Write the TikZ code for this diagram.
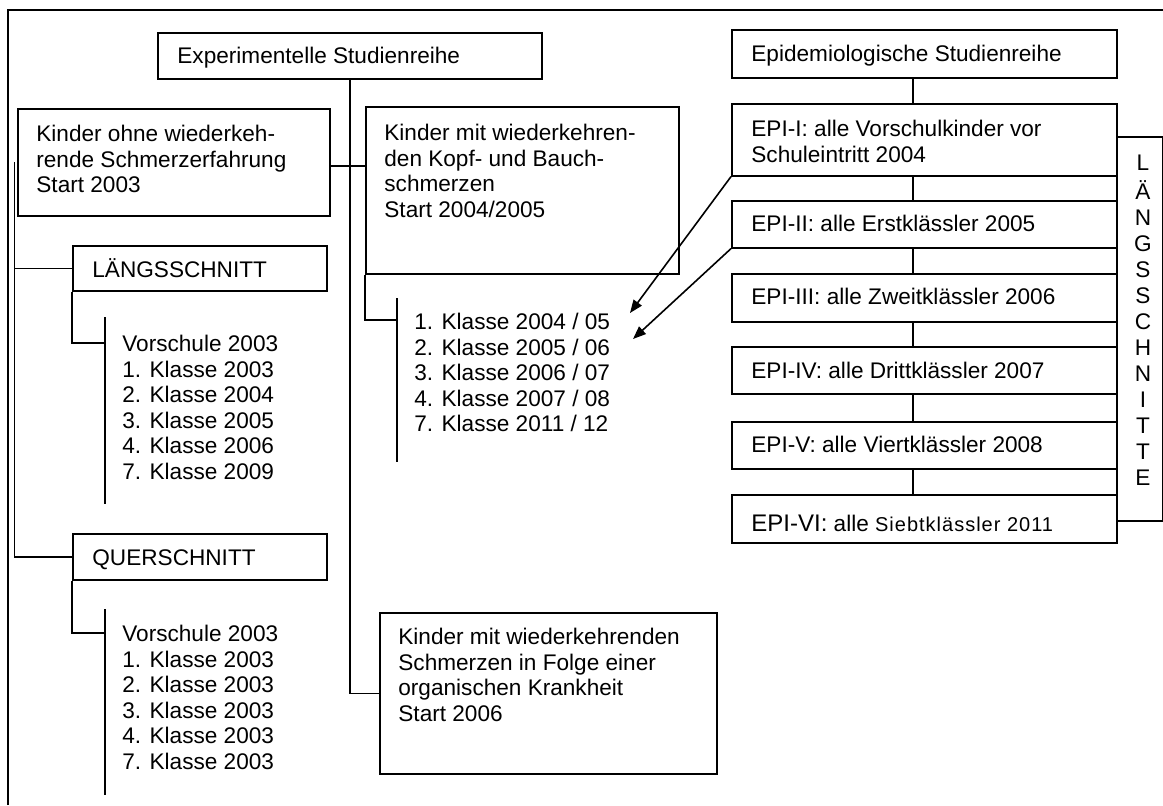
\documentclass[tikz,border=0pt]{standalone}
\usepackage{fontspec}
\setmainfont{Liberation Sans}
\newfontfamily\sibfont[LetterSpace=5]{Liberation Sans}
\usetikzlibrary{arrows.meta,calc}
\newcommand\myfs{\fontsize{11.3}{12.8}\selectfont}
\begin{document}
\begin{tikzpicture}[x=0.5pt,y=-0.5pt,
  box/.style={draw, line width=0.8pt, inner sep=0, anchor=north west},
  txt/.style={inner sep=0, anchor=north west, align=left, font=\myfs},
  conn/.style={line width=0.8pt},
  arr/.style={line width=0.8pt, -{Triangle[length=6.5pt,width=5pt]}}]
\useasboundingbox (0,0) rectangle (1163,805);
% frame
\draw[conn] (8,805) -- (8,10) -- (1163,10);
% boxes
\node[box, minimum width=192pt, minimum height=23pt] (exp) at (157,32) {};
\node[box, minimum width=192.5pt, minimum height=24pt] (epi) at (731,29) {};
\node[box, minimum width=156pt, minimum height=53.5pt] (ohne) at (17,108) {};
\node[box, minimum width=156.5pt, minimum height=83.5pt] (mit) at (365,106) {};
\node[box, minimum width=127pt, minimum height=22.5pt] (laengs) at (72,245) {};
\node[box, minimum width=127pt, minimum height=23pt] (quer) at (72,533) {};
\node[box, minimum width=168.5pt, minimum height=80.5pt] (org) at (379,612) {};
\node[box, minimum width=192.5pt, minimum height=36pt] (e1) at (731,103) {};
\node[box, minimum width=192.5pt, minimum height=23.5pt] (e2) at (731,200) {};
\node[box, minimum width=192.5pt, minimum height=24pt] (e3) at (731,273) {};
\node[box, minimum width=192.5pt, minimum height=23.5pt] (e4) at (731,346) {};
\node[box, minimum width=192.5pt, minimum height=23.5pt] (e5) at (731,421) {};
\node[box, minimum width=192.5pt, minimum height=24pt] (e6) at (731,494) {};
\node[box, minimum width=23pt, minimum height=192pt] (br) at (1116,136) {};
% texts
\node[txt] (texp) at (177,45.2) {\strut Experimentelle Studienreihe};
\node[txt] (tepi) at (751,43.2) {\strut Epidemiologische Studienreihe};
\node[txt] (tohne) at (36,123.2) {\strut Kinder ohne wiederkeh-\\rende Schmerzerfahrung\\Start 2003};
\node[txt] (tmit) at (384,122.2) {\strut Kinder mit wiederkehren-\\den Kopf- und Bauch-\\schmerzen\\Start 2004/2005};
\node[txt] (tlaengs) at (92,258.2) {\strut LÄNGSSCHNITT};
\node[txt] (tquer) at (92,547.2) {\strut QUERSCHNITT};
\node[txt] (tl1) at (122,333.2) {\strut Vorschule 2003\\1. Klasse 2003\\2. Klasse 2004\\3. Klasse 2005\\4. Klasse 2006\\7. Klasse 2009};
\node[txt] (tq1) at (122,623.2) {\strut Vorschule 2003\\1. Klasse 2003\\2. Klasse 2003\\3. Klasse 2003\\4. Klasse 2003\\7. Klasse 2003};
\node[txt] (tm1) at (414,311.2) {\strut 1. Klasse 2004 / 05\\2. Klasse 2005 / 06\\3. Klasse 2006 / 07\\4. Klasse 2007 / 08\\7. Klasse 2011 / 12};
\node[txt] (torg) at (398,626.2) {\strut Kinder mit wiederkehrenden\\Schmerzen in Folge einer\\organischen Krankheit\\Start 2006};
\node[txt] (te1) at (751,118.2) {\strut EPI-I: alle Vorschulkinder vor\\Schuleintritt 2004};
\node[txt] (te2) at (751,213.2) {\strut EPI-II: alle Erstklässler 2005};
\node[txt] (te3) at (751,286.2) {\strut EPI-III: alle Zweitklässler 2006};
\node[txt] (te4) at (751,360.2) {\strut EPI-IV: alle Drittklässler 2007};
\node[txt] (te5) at (751,434.2) {\strut EPI-V: alle Viertklässler 2008};
\node[txt] (te6) at (751,513.2) {\strut {\fontsize{12}{12.8}\selectfont EPI-VI:} alle {\sibfont\fontsize{10}{12.8}\selectfont Siebtklässler 2011}};
\node[inner sep=0, anchor=north, align=center, font=\fontsize{11.3}{13}\selectfont] (tbr) at (1143,152.2)
  {\strut L\\Ä\\N\\G\\S\\S\\C\\H\\N\\I\\T\\T\\E};
% coordinates
\coordinate (lt) at (14.5,162);
\coordinate (l1j) at (105,343);
\coordinate (l1a) at (105,317);
\coordinate (l1b) at (105,504);
\coordinate (q1j) at (105,633);
\coordinate (q1a) at (105,609);
\coordinate (q1b) at (105,795);
\coordinate (m1j) at (397,320);
\coordinate (m1a) at (397,298);
\coordinate (m1b) at (397,462);
\coordinate (hy) at (0,166);
\coordinate (ex) at (913,0);
\coordinate (a1) at (630,313);
\coordinate (a2) at (633,339);
% connectors
\draw[conn] (exp.south) |- (org.west);
\draw[conn] (ohne.east |- hy) -- (mit.west |- hy);
\draw[conn] (lt) |- (laengs.west);
\draw[conn] (lt) |- (quer.west);
\draw[conn] (laengs.south west) |- (l1j);
\draw[conn] (l1a) -- (l1b);
\draw[conn] (quer.south west) |- (q1j);
\draw[conn] (q1a) -- (q1b);
\draw[conn] (mit.south west) |- (m1j);
\draw[conn] (m1a) -- (m1b);
\draw[conn] (epi.south -| ex) -- (e1.north -| ex);
\draw[conn] (e1.south -| ex) -- (e2.north -| ex);
\draw[conn] (e2.south -| ex) -- (e3.north -| ex);
\draw[conn] (e3.south -| ex) -- (e4.north -| ex);
\draw[conn] (e4.south -| ex) -- (e5.north -| ex);
\draw[conn] (e5.south -| ex) -- (e6.north -| ex);
\draw[arr] (e1.south west) -- (a1);
\draw[arr] (e2.south west) -- (a2);
\end{tikzpicture}
\end{document}
